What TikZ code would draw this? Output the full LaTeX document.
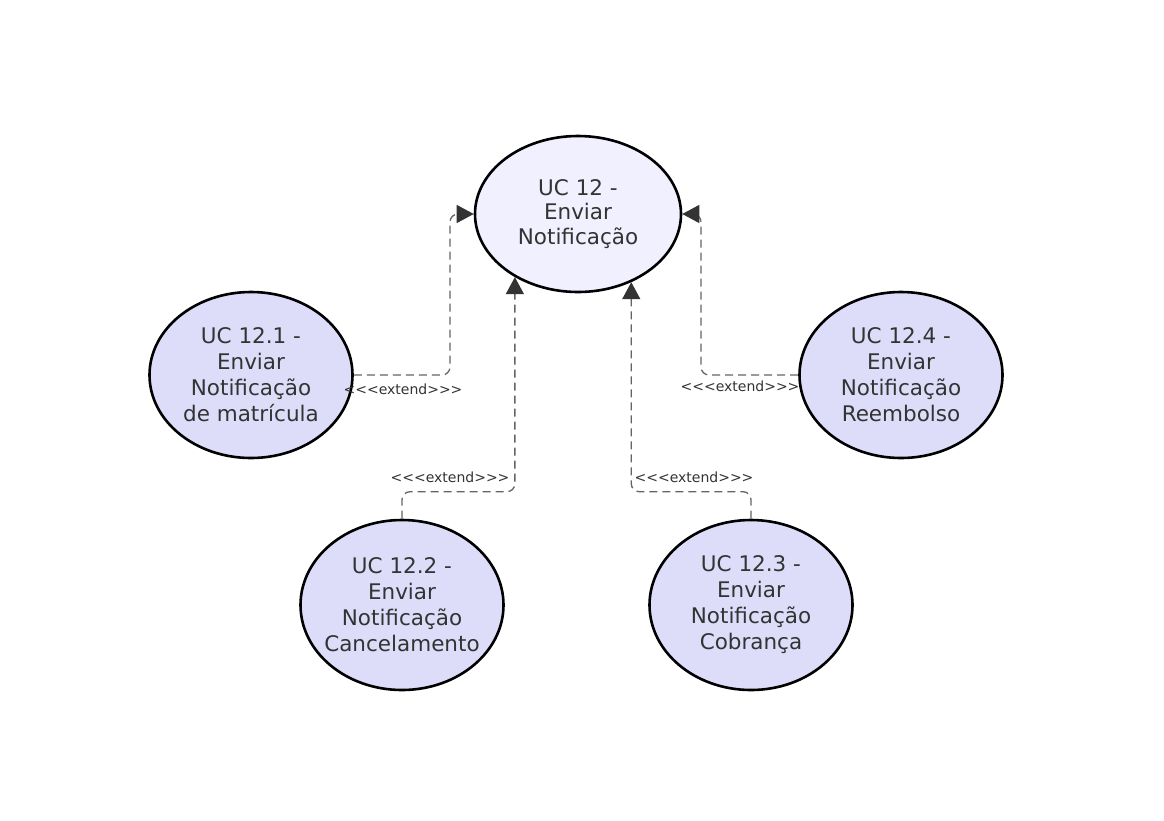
\documentclass[tikz,border=0pt]{standalone}
\usepackage{fontspec}
\setmainfont{DejaVu Sans}
\newfontfamily\lblfont[Ligatures=TeXOff]{DejaVu Sans}
\usetikzlibrary{shapes.geometric,arrows.meta}
\definecolor{ctrfill}{RGB}{240,240,254}
\definecolor{ucfill}{RGB}{221,221,250}
\definecolor{txt}{RGB}{51,51,51}
\definecolor{conn}{RGB}{100,100,100}
\tikzset{
  uc/.style={ellipse, draw=black, line width=2.6pt, fill=ucfill, inner ysep=0pt, inner xsep=-40pt,
    minimum width=203pt, minimum height=166pt, align=center, text=txt,
    font=\fontsize{21.5}{26}\selectfont},
  ucmain/.style={uc, fill=ctrfill, minimum width=206pt, minimum height=156pt,
    font=\fontsize{21.5}{24.5}\selectfont},
  ext/.style={draw=conn, line width=1.3pt, dash pattern=on 8pt off 5pt, rounded corners=8pt,
    -{Triangle[length=17pt,width=18pt,fill=txt,color=txt,sep=0pt]}},
  extlbl/.style={font=\lblfont\fontsize{14}{16}\selectfont, text=txt, inner sep=1pt}
}
\begin{document}
\begin{tikzpicture}[x=1pt,y=-1pt]
\useasboundingbox (0,0) rectangle (1164,820);
\node[ucmain] (ctr) at (578,214) {UC 12 -\\Enviar\\Notificação};
\node[uc] (u1) at (251,375) {UC 12.1 -\\Enviar\\Notificação\\de matrícula};
\node[uc] (u4) at (901,375) {UC 12.4 -\\Enviar\\Notificação\\Reembolso};
\node[uc, minimum height=170pt] (u2) at (402,605) {UC 12.2 -\\Enviar\\Notificação\\Cancelamento};
\node[uc, minimum height=170pt] (u3) at (751,605) {UC 12.3 -\\Enviar\\Notificação\\Cobrança};

\draw[ext] (u1.east) -- (450,375) -- (450,214) -- (ctr.west);
\draw[ext] (u4.west) -- (701,375) -- (701,214) -- (ctr.east);
\draw[ext] (u2.north) -- ++(0,-27) -| (ctr.225);
\draw[ext] (u3.north) -- ++(0,-27) -| (ctr.308);

\node[extlbl] (l1) at (403,389) {<<<extend>>>};
\node[extlbl] (l4) at (740,386) {<<<extend>>>};
\node[extlbl] (l2) at (450,477) {<<<extend>>>};
\node[extlbl] (l3) at (694,477) {<<<extend>>>};
\end{tikzpicture}
\end{document}
